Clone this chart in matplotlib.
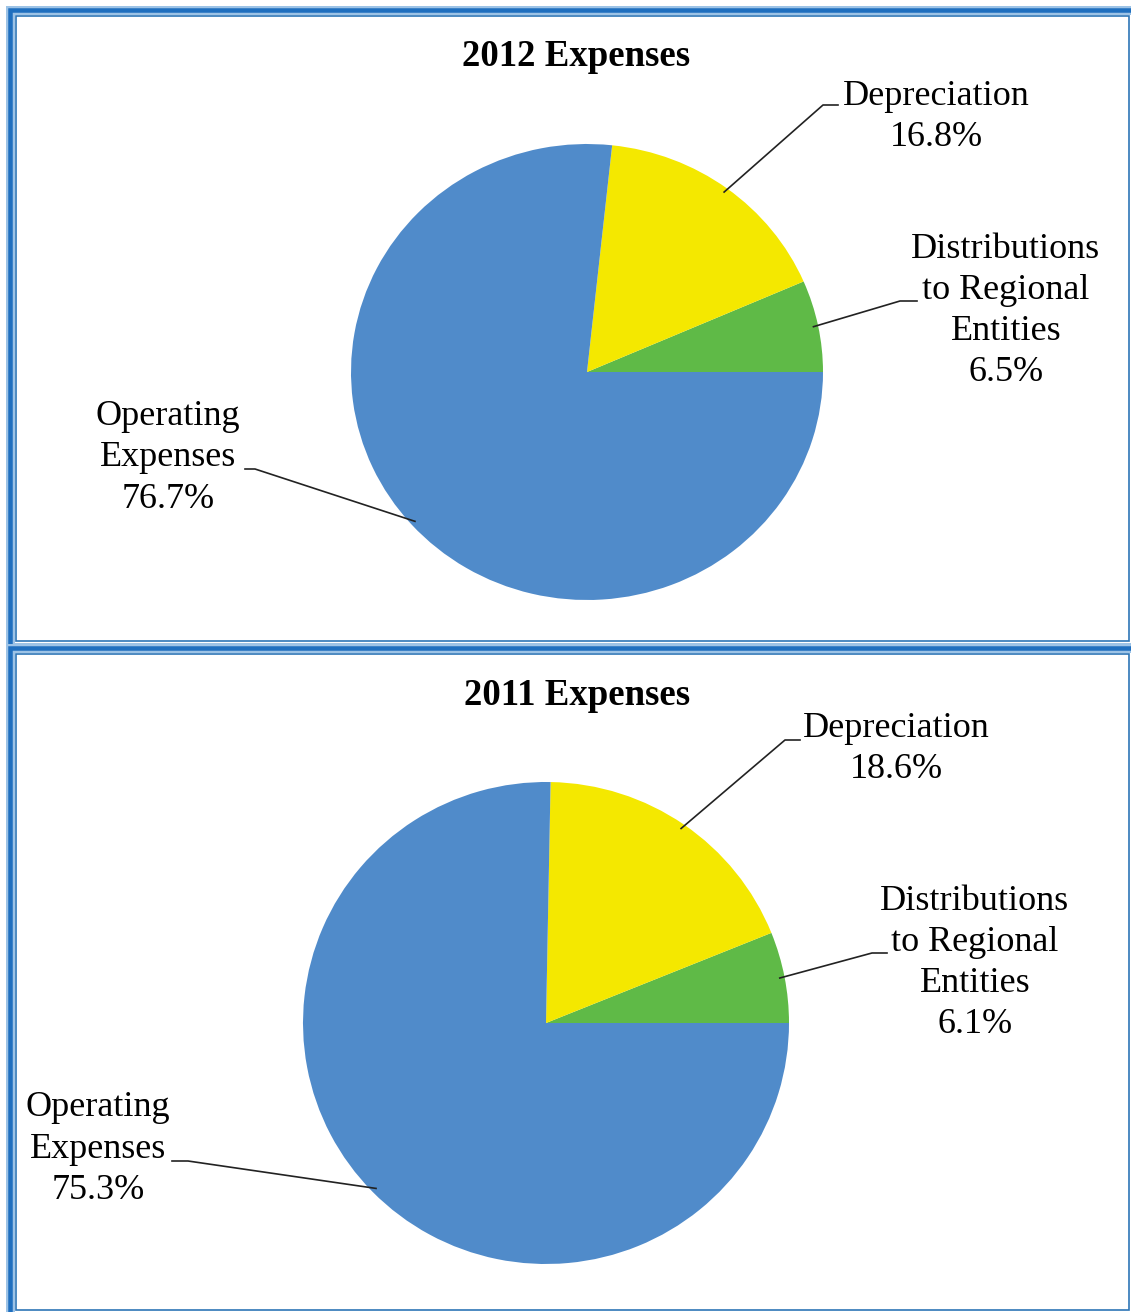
import numpy as np
import matplotlib
matplotlib.use('Agg')
import matplotlib.pyplot as plt
from matplotlib.patches import Rectangle
from matplotlib.lines import Line2D

# data
labels = ['Distributions\nto Regional\nEntities', 'Depreciation', 'Operating\nExpenses']
values_2012 = [6.5, 16.8, 76.7]
values_2011 = [6.1, 18.6, 75.3]
titles = ['2012 Expenses', '2011 Expenses']
colors = ['#5FBA47', '#F4E800', '#508BCA']

W, H = 1131, 1312
fig = plt.figure(figsize=(W / 100, H / 100), dpi=100)
plt.rcParams['font.family'] = ['Liberation Serif', 'DejaVu Serif']


def fx(x):
    return x / W


def fy(y):
    return 1 - y / H


def frame(left, top, right, bottom, inner):
    # thick double blue border like the excel chart area
    for lw, c in [(9, '#9DC3E6'), (4.5, '#1F6FBF')]:
        fig.add_artist(Rectangle((fx(left), fy(bottom)), fx(right - left), (bottom - top) / H,
                                 fill=False, ec=c, lw=lw * 0.72, transform=fig.transFigure))
    l, t, r, b = inner
    fig.add_artist(Rectangle((fx(l), fy(b)), fx(r - l), (b - t) / H,
                             fill=False, ec='#2E75B6', lw=1.2, transform=fig.transFigure))


frame(10, 10, 1137, 647, (16, 16, 1129, 641))
frame(10, 648, 1137, 1318, (16, 654, 1129, 1310))

# layout per chart (image pixels)
pie_boxes = [(351, 144, 823, 600), (303, 782, 789, 1264)]
title_pos = [(576, 56), (577, 695)]
# (text center x, text center y, knee x, knee y, end x)
label_pos = [
    [(1006, 311, 900, 301, 917), (936, 117, 823, 105, 838), (168, 458, 255, 469, 245)],
    [(975, 963, 872, 953, 887), (896, 749, 785, 740, 800), (98, 1149, 188, 1161, 172)],
]

for i, vals in enumerate([values_2012, values_2011]):
    x0, y0, x1, y1 = pie_boxes[i]
    ax = fig.add_axes([fx(x0), fy(y1), fx(x1 - x0), (y1 - y0) / H])
    ax.pie(vals, colors=colors, startangle=0, counterclock=True, radius=1,
           wedgeprops=dict(linewidth=0))
    ax.set_xlim(-1, 1)
    ax.set_ylim(-1, 1)
    ax.set_aspect('auto')
    ax.axis('off')

    fig.text(fx(title_pos[i][0]), fy(title_pos[i][1]), titles[i], ha='center', va='center',
             fontsize=26.5, fontweight='bold')

    fracs = np.array(vals) / sum(vals)
    starts = np.concatenate([[0], np.cumsum(fracs)[:-1]]) * 360
    mids = np.deg2rad(starts + fracs * 180)
    fig.canvas.draw()
    for j, lab in enumerate(labels):
        tx, ty, kx, ky, ex = label_pos[i][j]
        fig.text(fx(tx), fy(ty), f'{lab}\n{vals[j]}%', ha='center', va='center',
                 multialignment='center', fontsize=26, linespacing=1.33)
        px, py = ax.transData.transform((0.98 * np.cos(mids[j]), 0.98 * np.sin(mids[j])))
        fig.add_artist(Line2D([px / W, fx(kx), fx(ex)], [py / H, fy(ky), fy(ky)],
                              color='#222222', lw=1.2, transform=fig.transFigure))

fig.savefig('out.png', dpi=100)
